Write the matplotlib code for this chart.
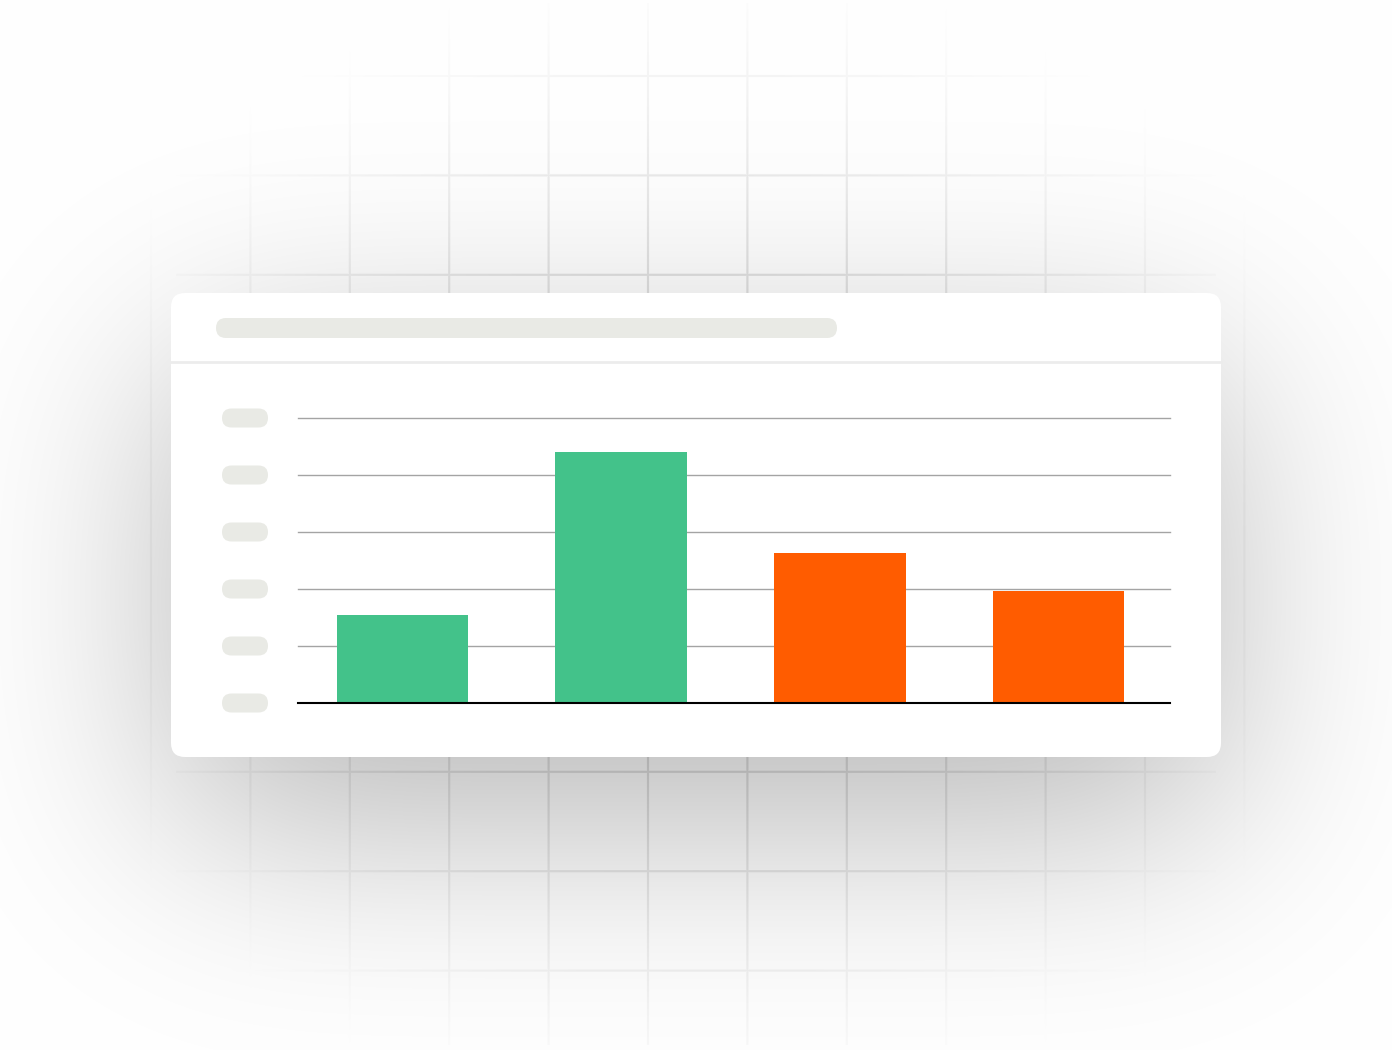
import numpy as np
import matplotlib
matplotlib.use('Agg')
import matplotlib.pyplot as plt
from matplotlib.patches import FancyBboxPatch

W, H = 1392, 1050

# chart data
categories = ['A', 'B', 'C', 'D']
values = [1.55, 4.40, 2.63, 1.96]
bar_colors = ['#43c28a', '#43c28a', '#ff5c00', '#ff5c00']
y_ticks = [0, 1, 2, 3, 4, 5]

pill_color = '#e9eae5'


def erf(x):
    # Abramowitz-Stegun approximation, numpy has no erf
    s = np.sign(x)
    x = np.abs(x)
    t = 1.0 / (1.0 + 0.3275911 * x)
    y = 1 - (((((1.061405429 * t - 1.453152027) * t) + 1.421413741) * t - 0.284496736) * t + 0.254829592) * t * np.exp(-x * x)
    return s * y


def soft_box(c, lo, hi, sigma):
    k = sigma * np.sqrt(2)
    return 0.5 * (erf((c - lo) / k) - erf((c - hi) / k))


def line_profile(c, positions, half=1.1):
    d = np.min(np.abs(c[:, None] - np.asarray(positions)[None, :]), axis=1)
    return np.clip(half + 0.5 - d, 0, 1)


# background: faded grid + card shadow
xs = np.arange(W) + 0.5
ys = np.arange(H) + 0.5
card = (171, 293, 1221, 757)

shadow = 0.28 * np.outer(soft_box(ys, card[1] + 70, card[3] + 70, 110),
                         soft_box(xs, card[0], card[2], 110))

gx = 151 + 99.4 * np.arange(12)
gy = 76 + 99.4 * np.arange(10)
vert = line_profile(xs, gx)[None, :] * ((ys >= 3) & (ys <= 1045))[:, None]
horiz = line_profile(ys, gy)[:, None] * ((xs >= 176) & (xs <= 1216))[None, :]
lines = np.maximum(vert, horiz)
r2 = ((xs[None, :] - 696) / 680) ** 2 + ((ys[:, None] - 540) / 600) ** 2
mask = np.clip(1 - r2, 0, 1) ** 1.5

gray = (1 - shadow) * (1 - 0.16 * lines * mask)
img = np.dstack([gray, gray, gray])

fig = plt.figure(figsize=(W / 100, H / 100), dpi=100)
bg = fig.add_axes([0, 0, 1, 1])
bg.imshow(img, extent=(0, W, H, 0), interpolation='nearest', zorder=0)
bg.set_xlim(0, W)
bg.set_ylim(H, 0)
bg.axis('off')

# card
bg.add_patch(FancyBboxPatch((card[0], card[1]), card[2] - card[0], card[3] - card[1],
                            boxstyle='round,pad=0,rounding_size=14', fc='white', ec='none', zorder=1))
bg.plot([card[0], card[2]], [362, 362], color='#ececec', lw=2, zorder=2)
# title placeholder
bg.add_patch(FancyBboxPatch((216, 318), 621, 20, boxstyle='round,pad=0,rounding_size=10',
                            fc=pill_color, ec='none', zorder=2))

# chart area
ax = fig.add_axes([298 / W, (H - 703) / H, 872 / W, 285 / H])
ax.set_facecolor('none')
x = np.arange(len(categories))
ax.bar(x, values, width=0.6, color=bar_colors, zorder=3)
ax.set_xlim(-0.477, 3.509)
ax.set_ylim(0, 5)
for t in y_ticks[1:]:
    ax.axhline(t, color='#a4a4a4', lw=1, zorder=1, clip_on=False)
ax.axhline(0, color='black', lw=1.5, zorder=4, clip_on=False)
for s in ax.spines.values():
    s.set_visible(False)
ax.set_xticks([])
ax.set_yticks([])

# y tick label placeholders
for t in y_ticks:
    ypix = H - ax.transData.transform((0, t))[1]
    bg.add_patch(FancyBboxPatch((222, ypix - 9.5), 46, 19, boxstyle='round,pad=0,rounding_size=9.5',
                                fc=pill_color, ec='none', zorder=2))

fig.savefig('out.png', dpi=100)
